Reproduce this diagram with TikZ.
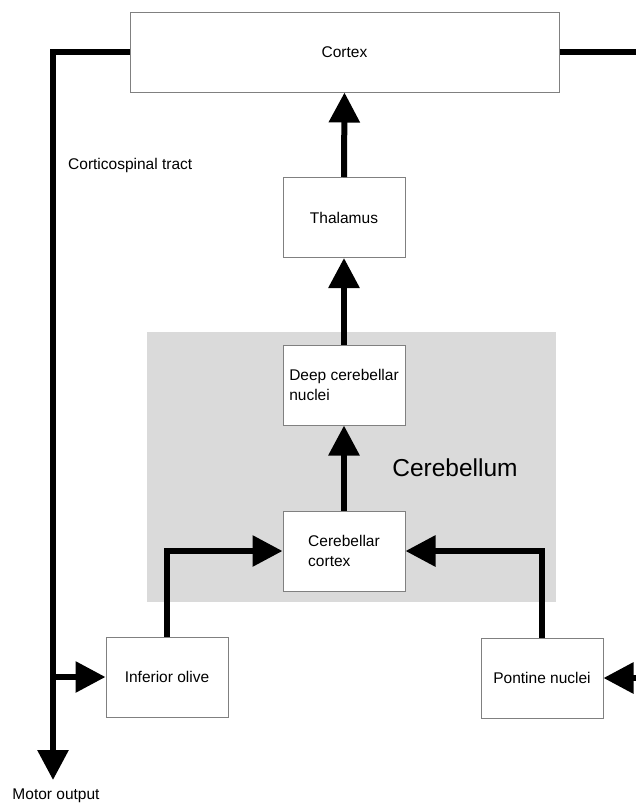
\documentclass[tikz,border=0pt]{standalone}
\usepackage{fontspec}
\setmainfont{Liberation Sans}
\usetikzlibrary{arrows.meta}
\definecolor{cerebgray}{RGB}{218,218,218}
\definecolor{boxedge}{RGB}{128,128,128}
\begin{document}
\begin{tikzpicture}[x=1pt,y=-1pt,
  box/.style={draw=boxedge, line width=1pt, fill=white, minimum width=122pt,
    minimum height=80pt, inner sep=0pt, align=left,
    font=\fontsize{15.5}{19.5}\selectfont},
  flow/.style={line width=6pt, -{Triangle[length=30pt,width=30pt]}},
  wire/.style={line width=6pt},
  lbl/.style={inner sep=0pt, font=\fontsize{15.5}{19.5}\selectfont}]
\useasboundingbox (0,0) rectangle (636,804);
\clip (0,0) rectangle (636,804);

% cerebellum region
\fill[cerebgray] (147,332) rectangle (556,602);
\node[inner sep=0pt, font=\fontsize{24.5}{28}\selectfont] (cerebellum) at (455,468) {Cerebellum};

% boxes
\node[box, minimum width=429pt] (cortex) at (344.5,52) {Cortex};
\node[box] (thal) at (344,217.5) {Thalamus};
\node[box] (dcn) at (344,385) {Deep cerebellar\\nuclei};
\node[box] (cc) at (344,551) {Cerebellar\\cortex};
\node[box] (io) at (167,677) {Inferior olive};
\node[box] (pn) at (542,678) {Pontine nuclei};

% free ends of connectors
\coordinate (motor) at (53,780);
\coordinate (rightout) at (646,52);
\coordinate (rightin) at (646,678);

% connectors
\draw[flow] (cortex.west) -| (motor);
\draw[flow] (motor |- io.west) -- (io.west);
\draw[wire] (cortex.east) -- (rightout);
\draw[flow] (rightin) -- (pn.east);
\draw[flow] (thal.north) -- (cortex.south);
\draw[flow] (dcn.north) -- (thal.south);
\draw[flow] (cc.north) -- (dcn.south);
\draw[flow] (io.north) |- (cc.west);
\draw[flow] (pn.north) |- (cc.east);

% labels
\node[lbl, anchor=west] (cst) at (68,165) {Corticospinal tract};
\node[lbl] (motorlbl) at (56,796) {Motor output};
\end{tikzpicture}
\end{document}
